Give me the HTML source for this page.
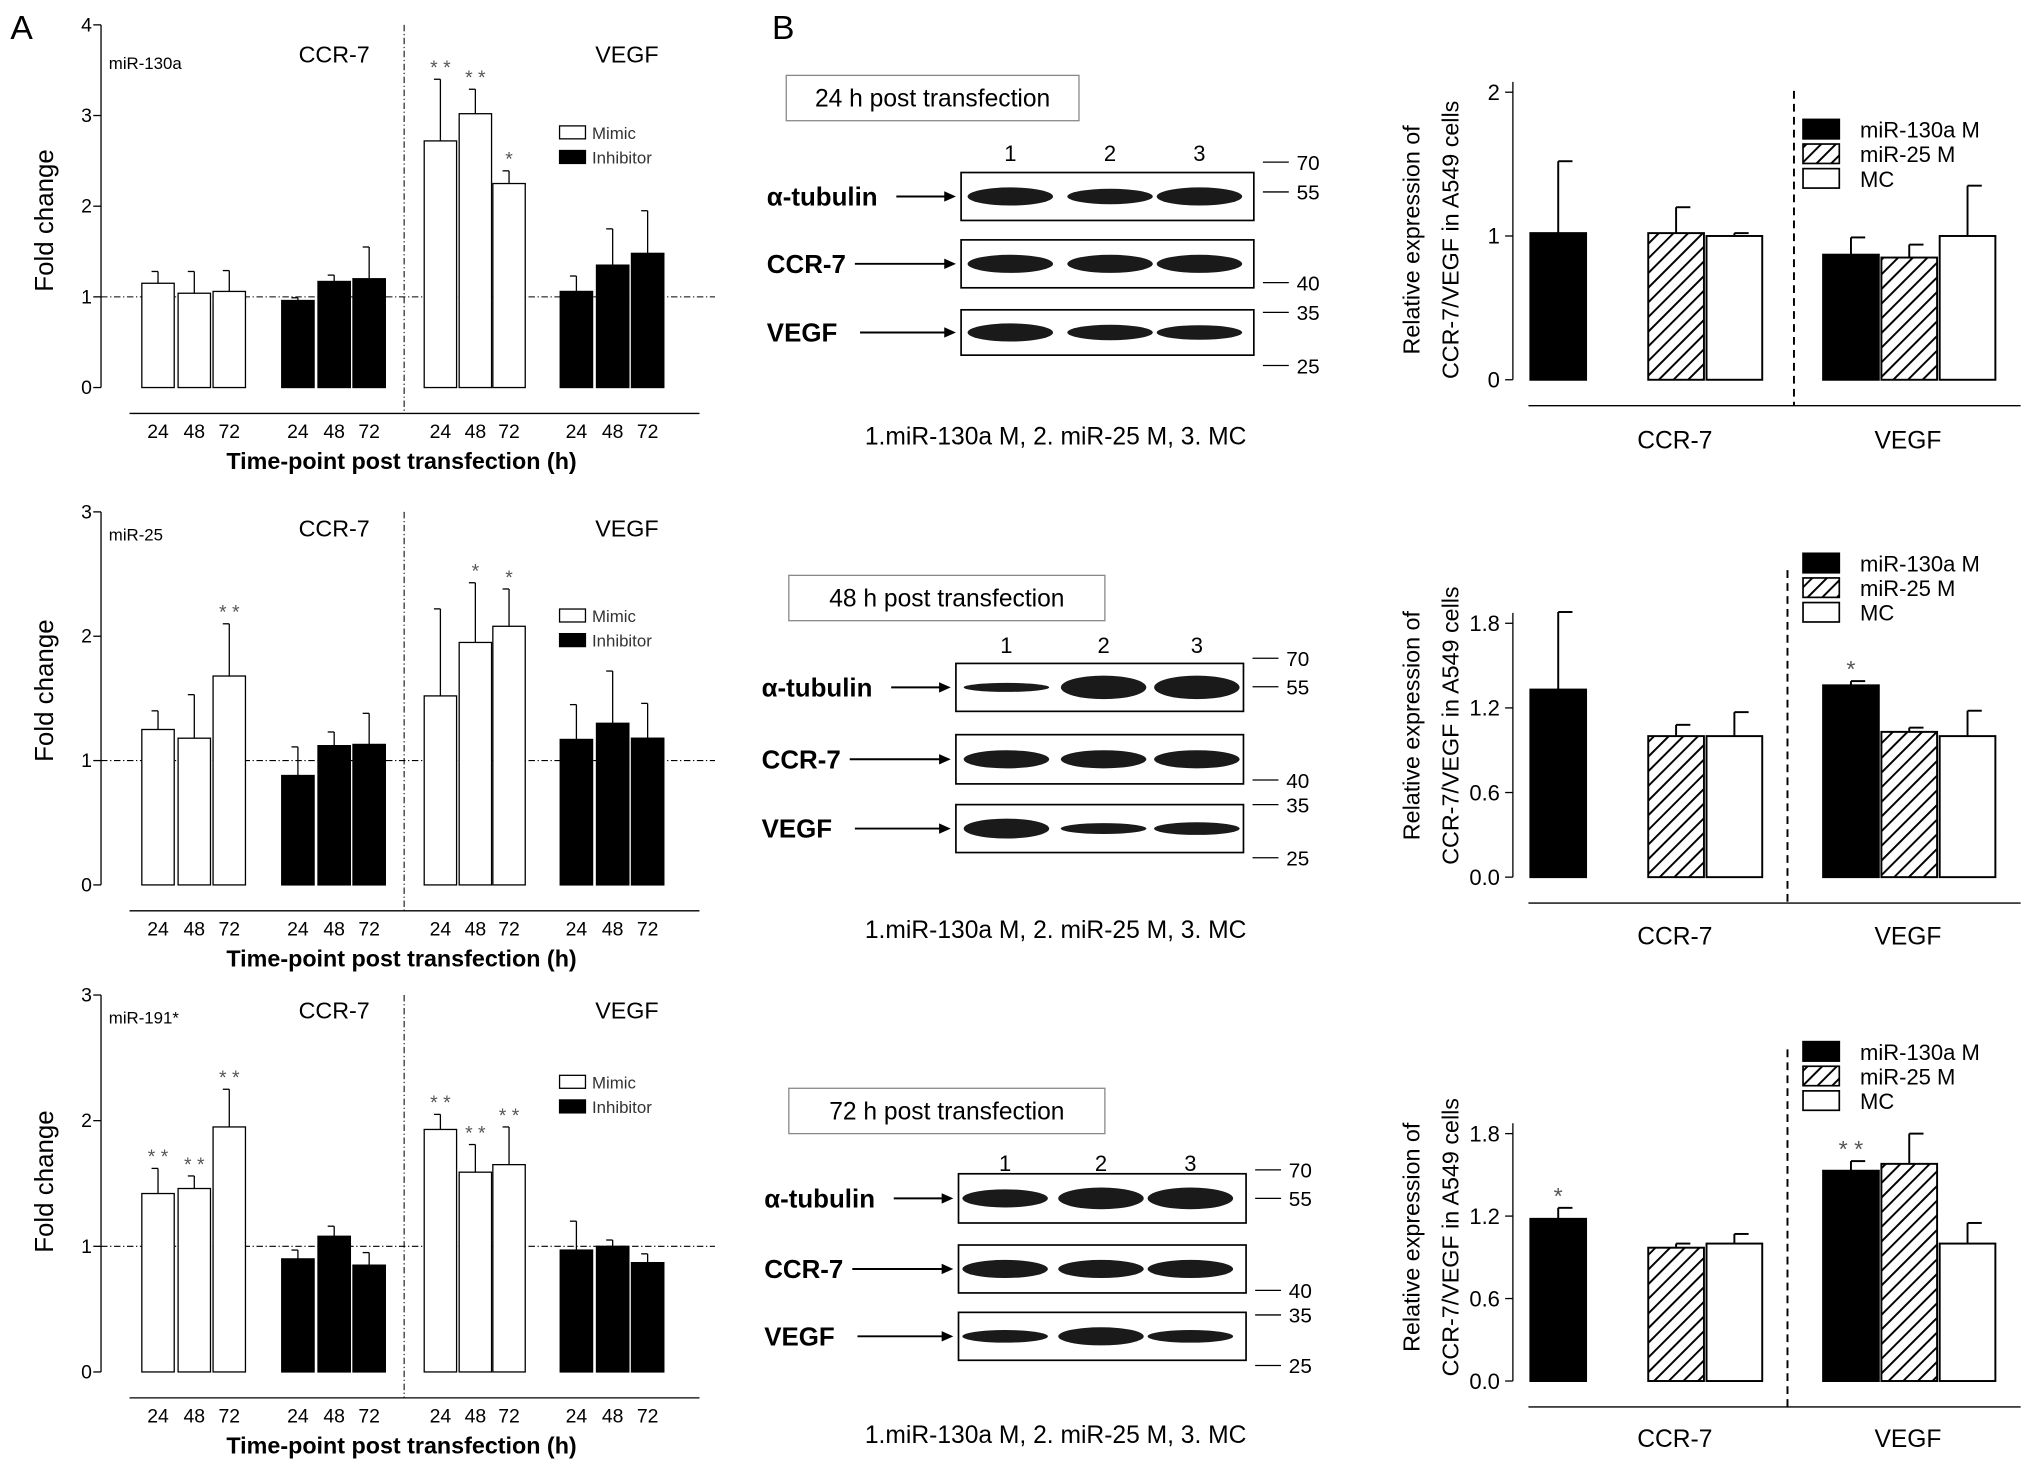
<!DOCTYPE html>
<html><head><meta charset="utf-8"><style>
html,body{margin:0;padding:0;background:#fff}
svg{display:block;font-family:"Liberation Sans",sans-serif}
</style></head><body>
<svg id="fig" width="2031" height="1481" viewBox="0 0 1568 1143" xmlns="http://www.w3.org/2000/svg">
<defs><pattern id="hatch" patternUnits="userSpaceOnUse" width="8" height="8" patternTransform="rotate(45)"><rect width="8" height="8" fill="#fff"/><line x1="0" y1="0" x2="0" y2="8" stroke="#000" stroke-width="3"/></pattern></defs>
<text x="8" y="30" font-size="26">A</text>
<text x="596" y="30" font-size="26">B</text>
<g id="root"></g>
</svg>
<script>
// ---- Panel A data ----
const aTitles = ["miR-130a","miR-25","miR-191*"];
const aYMax = [4,3,3];
const aMimicCCR = [[1.15,1.04,1.06],[1.25,1.18,1.68],[1.42,1.46,1.95]];
const aMimicCCRErr = [[0.13,0.24,0.23],[0.15,0.35,0.42],[0.2,0.1,0.3]];
const aInhCCR = [[0.96,1.17,1.2],[0.88,1.12,1.13],[0.9,1.08,0.85]];
const aInhCCRErr = [[0.03,0.07,0.35],[0.23,0.11,0.25],[0.07,0.08,0.1]];
const aMimicVEGF = [[2.72,3.02,2.25],[1.52,1.95,2.08],[1.93,1.59,1.65]];
const aMimicVEGFErr = [[0.68,0.27,0.14],[0.7,0.48,0.3],[0.12,0.22,0.3]];
const aInhVEGF = [[1.06,1.35,1.48],[1.17,1.3,1.18],[0.97,1.0,0.87]];
const aInhVEGFErr = [[0.17,0.4,0.47],[0.28,0.42,0.28],[0.23,0.05,0.07]];
const aStars = [[["","",""],["","",""],["**","**","*"],["","",""]],
                [["","","**"],["","",""],["","*","*"],["","",""]],
                [["**","**","**"],["","",""],["**","**","**"],["","",""]]];
const timeLabels = ["24","48","72"];
// ---- Panel B bar data ----
const bYTicks = [[0,1,2],[0,0.6,1.2,1.8],[0,0.6,1.2,1.8]];
const bCCR = [[1.02,1.02,1.0],[1.33,1.0,1.0],[1.18,0.97,1.0]];
const bCCRErr = [[0.5,0.18,0.02],[0.55,0.08,0.17],[0.08,0.03,0.07]];
const bVEGF = [[0.87,0.85,1.0],[1.36,1.03,1.0],[1.53,1.58,1.0]];
const bVEGFErr = [[0.12,0.09,0.35],[0.03,0.03,0.18],[0.07,0.22,0.15]];
const bStarsCCR = [["","",""],["","",""],["*","",""]];
const bStarsVEGF = [["","",""],["*","",""],["**","",""]];
const blotTimes = ["24 h post transfection","48 h post transfection","72 h post transfection"];

const NS="http://www.w3.org/2000/svg";
const root=document.getElementById('root');
function mk(tag,attrs,parent,text){const e=document.createElementNS(NS,tag);for(const k in attrs)e.setAttribute(k,attrs[k]);if(text!==undefined)e.textContent=text;(parent||root).appendChild(e);return e;}

const aL=[{y0:299,yTop:19,ax:319,tl:333,tt:356,title:48,hdr:42,leg:102,yt:170},
          {y0:683,yTop:395,ax:703,tl:717,tt:740,title:412,hdr:408,leg:475,yt:533},
          {y0:1059,yTop:768,ax:1079,tl:1093,tt:1116,title:785,hdr:780,leg:835,yt:912}];
const groupX=[[122,150,177],[230,258,285],[340,367,393],[445,473,500]];
for(let c=0;c<3;c++){
  const L=aL[c];const g=mk('g',{});
  
  
  const ys=v=>L.y0-(L.y0-L.yTop)*v/aYMax[c];
  let yax=mk('line',{x1:78,y1:L.yTop,x2:78,y2:L.y0,stroke:'#000','stroke-width':1},g);
  
  for(let t=0;t<=aYMax[c];t++){
    mk('line',{x1:72,x2:78,y1:ys(t),y2:ys(t),stroke:'#000'},g);
    let tx=mk('text',{x:71,y:ys(t)+5,'font-size':15,'text-anchor':'end'},g,String(t));
    
  }
  let xax=mk('line',{x1:100,x2:540,y1:L.ax,y2:L.ax,stroke:'#000'},g);
  
  mk('line',{x1:78,x2:552,y1:ys(1),y2:ys(1),stroke:'#000','stroke-dasharray':'5,2,1,2','stroke-width':0.8},g);
  mk('line',{x1:312,x2:312,y1:L.yTop,y2:L.ax,stroke:'#000','stroke-dasharray':'5,2,1,2','stroke-width':0.8},g);
  const vals=[aMimicCCR[c],aInhCCR[c],aMimicVEGF[c],aInhVEGF[c]];
  const errs=[aMimicCCRErr[c],aInhCCRErr[c],aMimicVEGFErr[c],aInhVEGFErr[c]];
  for(let gi=0;gi<4;gi++)for(let i=0;i<3;i++){
    const x=groupX[gi][i],v=vals[gi][i],e=errs[gi][i];
    const fill=(gi%2==0)?'#fff':'#000';
    mk('line',{x1:x,x2:x,y1:ys(v),y2:ys(v+e),stroke:'#000'},g);
    mk('line',{x1:x-5,x2:x,y1:ys(v+e),y2:ys(v+e),stroke:'#000'},g);
    let b=mk('rect',{x:x-12.5,y:ys(v),width:25,height:L.y0-ys(v),fill:fill,stroke:'#000','stroke-width':1},g);
    
    const s=aStars[c][gi][i];
    if(s){mk('text',{x:x,y:ys(v+e)-4,'font-size':15,'text-anchor':'middle',fill:'#555'},g,s.split('').join(' '));}
  }
  for(let gi=0;gi<4;gi++)for(let i=0;i<3;i++){
    let tl=mk('text',{x:groupX[gi][i],y:L.tl+5,'font-size':15,'text-anchor':'middle'},g,timeLabels[i]);
    
  }
  let xt=mk('text',{x:310,y:L.tt+6,'font-size':18,'font-weight':'bold','text-anchor':'middle'},g,'Time-point post transfection (h)');
  
  let yt=mk('text',{x:0,y:0,'font-size':20,'text-anchor':'middle',transform:`translate(41,${L.yt}) rotate(-90)`},g,'Fold change');
  
  mk('text',{x:84,y:L.title+5,'font-size':13},g,aTitles[c]);
  mk('text',{x:258,y:L.hdr+6,'font-size':18,'text-anchor':'middle'},g,'CCR-7');
  mk('text',{x:484,y:L.hdr+6,'font-size':18,'text-anchor':'middle'},g,'VEGF');
  const lg=mk('g',{},g);
  mk('rect',{x:432,y:L.leg-5,width:20,height:10,fill:'#fff',stroke:'#000'},lg);
  mk('text',{x:457,y:L.leg+5,'font-size':13,fill:'#333'},lg,'Mimic');
  mk('rect',{x:432,y:L.leg+14,width:20,height:10,fill:'#000',stroke:'#000'},lg);
  mk('text',{x:457,y:L.leg+24,'font-size':13,fill:'#333'},lg,'Inhibitor');
}

const bl=[{bx:607,bw:226,by:58,lanes:[780,857,926],ly:118,x0:742,x1:968,rows:[[133,170],[185,222],[239,274]],mk:{70:125,55:148,40:218,35:241,25:282},cap:337,
           bands:[[1,0.85,1],[1,1,1],[1,0.85,0.8]]},
          {bx:609,bw:244,by:444,lanes:[777,852,924],ly:498,x0:738,x1:960,rows:[[512,549],[567,605],[621,658]],mk:{70:508,55:530,40:602,35:621,25:662},cap:718,
           bands:[[0.5,1.3,1.3],[1,1,1],[1.1,0.6,0.7]]},
          {bx:609,bw:244,by:840,lanes:[776,850,919],ly:898,x0:740,x1:962,rows:[[906,944],[961,998],[1013,1050]],mk:{70:903,55:925,40:996,35:1015,25:1054},cap:1108,
           bands:[[1,1.2,1.2],[1,1,1],[0.7,1,0.7]]}];
const rowNames=["α-tubulin","CCR-7","VEGF"];
bl.forEach((B,bi)=>{
  const g=mk('g',{});
  mk('rect',{x:B.bx,y:B.by,width:B.bw,height:35,fill:'#fff',stroke:'#888'},g);
  mk('text',{x:B.bx+B.bw/2,y:B.by+24,'font-size':19,'text-anchor':'middle'},g,blotTimes[bi]);
  B.lanes.forEach((lx,i)=>mk('text',{x:lx,y:B.ly+6,'font-size':17,'text-anchor':'middle'},g,String(i+1)));
  B.rows.forEach((r,ri)=>{
    mk('rect',{x:B.x0,y:r[0],width:B.x1-B.x0,height:r[1]-r[0],fill:'#fff',stroke:'#000','stroke-width':1.3},g);
    const cy=(r[0]+r[1])/2;
    B.lanes.forEach((lx,i)=>{const s=B.bands[ri][i];
      mk('ellipse',{cx:lx,cy:cy,rx:33,ry:7*s,fill:'#1a1a1a'},g);});
    mk('text',{x:B.x0-150,y:cy+7,'font-size':20,'font-weight':'600'},g,rowNames[ri]);
    const tx=B.x0-150+(ri==0?100:ri==1?68:72);
    mk('line',{x1:tx,x2:B.x0-6,y1:cy,y2:cy,stroke:'#000','stroke-width':1.5},g);
    mk('path',{d:`M${B.x0-4},${cy} l-9,-4 l0,8 z`,fill:'#000'},g);
  });
  for(const k in B.mk){const y=B.mk[k];
    mk('line',{x1:B.x1+7,x2:B.x1+27,y1:y,y2:y,stroke:'#000'},g);
    mk('text',{x:B.x1+33,y:y+6,'font-size':16},g,k);}
  mk('text',{x:815,y:B.cap+6,'font-size':19,'text-anchor':'middle'},g,'1.miR-130a M, 2. miR-25 M, 3. MC');
});

const bL=[{y0:293,yTop:71,max:2,ax:313,lab:340,div:70,leg:100,yt:185},
          {y0:677,yTop:481,max:1.8,ax:697,lab:723,div:440,leg:435,yt:560},
          {y0:1066,yTop:875,max:1.8,ax:1086,lab:1111,div:810,leg:812,yt:955}];
const bX=[[1203,1294,1339],[1429,1474,1519]];
const fills=['#000','url(#hatch)','#fff'];
for(let c=0;c<3;c++){
  const L=bL[c];const g=mk('g',{});
  
  
  const ys=v=>L.y0-(L.y0-L.yTop)*v/L.max;
  let yax=mk('line',{x1:1168,x2:1168,y1:L.yTop-8,y2:L.y0,stroke:'#000'},g);
  
  bYTicks[c].forEach(t=>{mk('line',{x1:1162,x2:1168,y1:ys(t),y2:ys(t),stroke:'#000'},g);
    let tx=mk('text',{x:1158,y:ys(t)+6,'font-size':17,'text-anchor':'end'},g,c==0?String(t):t.toFixed(1));
    });
  let xax=mk('line',{x1:1180,x2:1560,y1:L.ax,y2:L.ax,stroke:'#000'},g);
  
  const dx=c==0?1385:1380;
  mk('line',{x1:dx,x2:dx,y1:L.div,y2:L.ax,stroke:'#000','stroke-dasharray':'6,4','stroke-width':1.5},g);
  const V=[bCCR[c],bVEGF[c]],E=[bCCRErr[c],bVEGFErr[c]],S=[bStarsCCR[c],bStarsVEGF[c]];
  for(let gi=0;gi<2;gi++)for(let i=0;i<3;i++){
    const x=bX[gi][i],v=V[gi][i],e=E[gi][i];
    mk('line',{x1:x,x2:x,y1:ys(v),y2:ys(v+e),stroke:'#000','stroke-width':1.5},g);
    mk('line',{x1:x,x2:x+11,y1:ys(v+e),y2:ys(v+e),stroke:'#000','stroke-width':1.5},g);
    let b=mk('rect',{x:x-21.5,y:ys(v),width:43,height:L.y0-ys(v),fill:fills[i],stroke:'#000','stroke-width':1.5},g);
    
    if(S[gi][i])mk('text',{x:x,y:ys(v+e)-3,'font-size':18,'text-anchor':'middle',fill:'#555'},g,S[gi][i].split('').join(' '));
  }
  mk('text',{x:1293,y:L.lab+6,'font-size':19,'text-anchor':'middle'},g,'CCR-7');
  mk('text',{x:1473,y:L.lab+6,'font-size':19,'text-anchor':'middle'},g,'VEGF');
  let yt=mk('text',{x:0,y:0,'font-size':18,'text-anchor':'middle',transform:`translate(1096,${L.yt}) rotate(-90)`},g,'Relative expression of');
  
  mk('text',{x:0,y:0,'font-size':18,'text-anchor':'middle',transform:`translate(1126,${L.yt}) rotate(-90)`},g,'CCR-7/VEGF in A549 cells');
  const lg=mk('g',{},g);
  ['miR-130a M','miR-25 M','MC'].forEach((n,i)=>{
    const y=L.leg+i*19;
    mk('rect',{x:1392,y:y-8,width:28,height:15,fill:fills[i],stroke:'#000','stroke-width':1.3},lg);
    mk('text',{x:1436,y:y+6,'font-size':17},lg,n);});
}
</script>
</body></html>
